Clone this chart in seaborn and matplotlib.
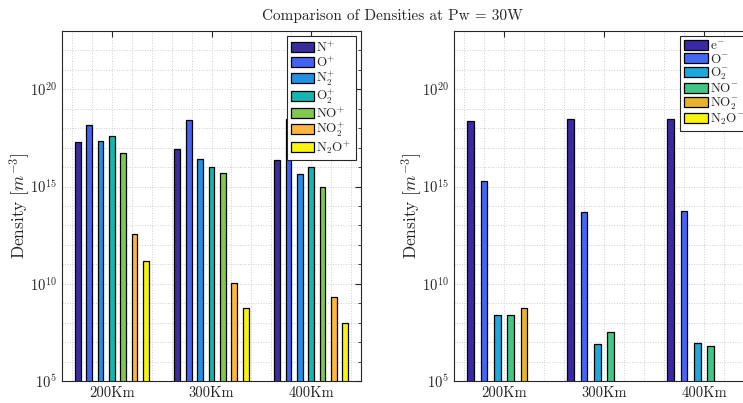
import numpy as np
import pandas as pd
import matplotlib
matplotlib.use("Agg")
import matplotlib.pyplot as plt
from matplotlib.ticker import FixedLocator, NullFormatter
import seaborn as sns

# ---------------- data ----------------
altitudes = ["200Km", "300Km", "400Km"]

pos_species = [r"$\mathrm{N}^{+}$", r"$\mathrm{O}^{+}$", r"$\mathrm{N}_2^{+}$", r"$\mathrm{O}_2^{+}$",
               r"$\mathrm{NO}^{+}$", r"$\mathrm{NO}_2^{+}$", r"$\mathrm{N_2O}^{+}$"]
# log10 densities [m^-3], per altitude
pos_200 = [17.30, 18.15, 17.33, 17.59, 16.72, 12.54, 11.16]
pos_300 = [16.94, 18.42, 16.40, 15.99, 15.71, 10.04, 8.74]
pos_400 = [16.35, 18.45, 15.63, 16.02, 14.97, 9.34, 7.96]

neg_species = [r"$\mathrm{e}^{-}$", r"$\mathrm{O}^{-}$", r"$\mathrm{O}_2^{-}$", r"$\mathrm{NO}^{-}$",
               r"$\mathrm{NO}_2^{-}$", r"$\mathrm{N_2O}^{-}$"]
neg_200 = [18.35, 15.27, 8.42, 8.40, 8.74, np.nan]
neg_300 = [18.45, 13.69, 6.92, 7.52, np.nan, np.nan]
neg_400 = [18.45, 13.76, 6.97, 6.81, np.nan, np.nan]

pos_colors = ["#3b2c9e", "#4262f5", "#2290e4", "#14b6ae", "#80c850", "#fdb63e", "#f8f410"]
neg_colors = ["#3a29a6", "#4466f8", "#1ea8dc", "#40c686", "#e8b430", "#f8f410"]


def make_df(species, vals_by_alt):
    rows = []
    for alt, vals in zip(altitudes, vals_by_alt):
        for sp, v in zip(species, vals):
            rows.append({"Altitude": alt, "Species": sp, "Density": 10.0 ** v})
    return pd.DataFrame(rows)


df_pos = make_df(pos_species, [pos_200, pos_300, pos_400])
df_neg = make_df(neg_species, [neg_200, neg_300, neg_400])

# ---------------- style ----------------
sns.set_style("white")
plt.rcParams.update({
    "font.family": "serif",
    "font.serif": ["cmr10", "DejaVu Serif"],
    "mathtext.fontset": "cm",
    "axes.formatter.use_mathtext": True,
    "axes.unicode_minus": False,
})

W, H = 743, 403
fig = plt.figure(figsize=(W / 100, H / 100), dpi=100)

def px_axes(left, right, top, bottom):
    return fig.add_axes([left / W, 1 - bottom / H, (right - left) / W, (bottom - top) / H])

ax1 = px_axes(62, 361, 31, 381)
ax2 = px_axes(454, 754, 31, 381)


def style_axis(ax, df, species, colors):
    ax.set_yscale("log")
    sns.barplot(data=df, x="Altitude", y="Density", hue="Species", hue_order=species,
                order=altitudes, palette=colors, ax=ax, gap=0.5, width=0.8,
                edgecolor="black", linewidth=0.9, errorbar=None, saturation=1, legend=True)
    ax.set_ylim(1e5, 1e23)
    ax.set_xlim(-0.5, 2.5)
    ax.set_xlabel("")
    ax.set_ylabel(r"Density $[m^{-3}]$", fontsize=12.5, labelpad=-1.5)
    ax.yaxis.set_major_locator(FixedLocator([1e5, 1e10, 1e15, 1e20]))
    ax.yaxis.set_minor_locator(FixedLocator([10.0 ** k for k in range(5, 24)]))
    ax.yaxis.set_minor_formatter(NullFormatter())
    ax.xaxis.set_minor_locator(FixedLocator(np.arange(-0.4, 2.5, 0.2)))
    ax.tick_params(axis="both", which="both", direction="in", top=True, right=True,
                   labelsize=10.5, color="#262626")
    ax.tick_params(axis="y", which="major", length=4)
    ax.tick_params(axis="y", which="minor", length=2)
    ax.tick_params(axis="x", which="major", length=4)
    ax.tick_params(axis="x", which="minor", length=0)
    ax.grid(True, which="both", axis="both", linestyle=":", color="#cfcfcf", linewidth=0.7)
    ax.set_axisbelow(True)
    for s in ax.spines.values():
        s.set_color("#262626")
        s.set_linewidth(0.8)
    handles, labels = ax.get_legend_handles_labels()
    ax.legend(handles, labels, loc="upper right", fontsize=9.5, fancybox=False,
              framealpha=1, edgecolor="#262626", handlelength=1.8, handleheight=0.8,
              labelspacing=0.0, handletextpad=0.15, borderpad=0.3, borderaxespad=0.4)
    ax.get_legend().get_frame().set_linewidth(0.8)


style_axis(ax1, df_pos, pos_species, pos_colors)
style_axis(ax2, df_neg, neg_species, neg_colors)

fig.text(392 / W, 1 - 16 / H, "Comparison of Densities at Pw = 30W", ha="center", va="center",
         fontsize=11)

fig.savefig("out.png", dpi=100)
